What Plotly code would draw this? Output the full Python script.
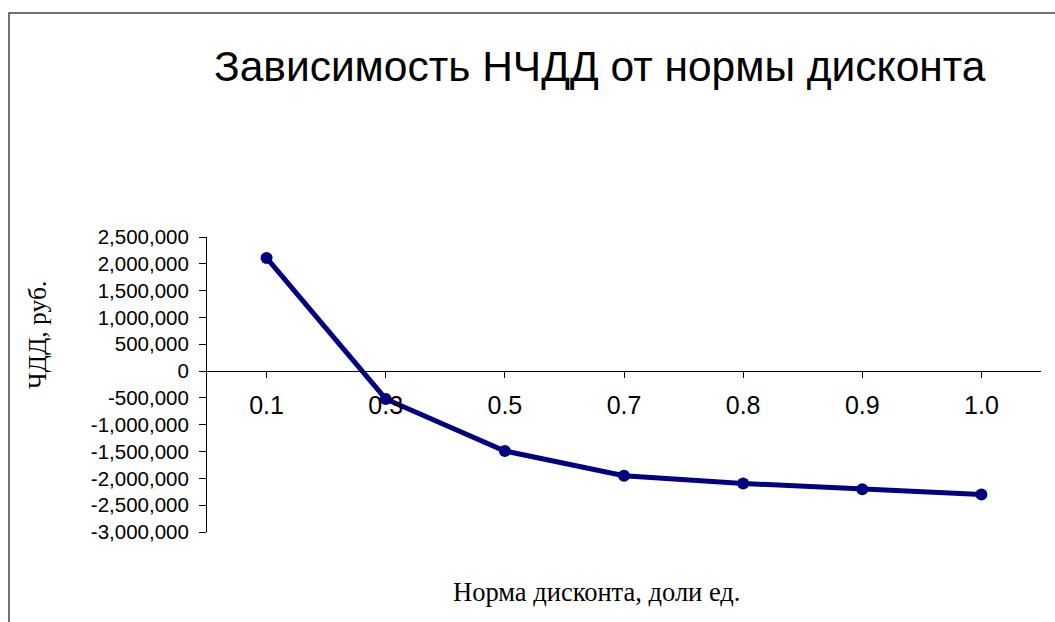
import plotly.graph_objects as go

# Discount rate categories (shares of unit) and the resulting NPV, rub.
rates = ["0.1", "0.3", "0.5", "0.7", "0.8", "0.9", "1.0"]
npv = [2110000, -520000, -1490000, -1950000, -2095000, -2205000, -2300000]

y_ticks = list(range(-3000000, 2500001, 500000))
y_tick_text = [f"{v:,}" for v in y_ticks]

W, H = 1055, 622
L, R, T, B = 207, 14, 237, 90
plot_w = W - L - R
plot_h = H - T - B

y_min, y_max = -3000000, 2500000
x_pos = list(range(len(rates)))
zero_pos = (0 - y_min) / (y_max - y_min)


def px_x(p):
    return (p - L) / plot_w


def px_y(p):
    return (H - B - p) / plot_h


fig = go.Figure()
fig.add_trace(go.Scatter(
    x=x_pos, y=npv, mode="lines+markers",
    line=dict(color="#000080", width=5),
    marker=dict(color="#000080", size=12),
    showlegend=False, hoverinfo="skip",
))

axis_font = dict(family="Liberation Sans, Arial, sans-serif", color="#000000")
serif_font = dict(family="Liberation Serif, Times New Roman, serif", color="#000000")

fig.update_layout(
    width=W, height=H,
    margin=dict(l=L, r=R, t=T, b=B),
    paper_bgcolor="white", plot_bgcolor="white",
    xaxis=dict(
        range=[-0.5, len(rates) - 0.5],
        tickmode="array", tickvals=x_pos, ticktext=rates,
        anchor="free", position=zero_pos,
        showline=True, linecolor="#000000", linewidth=1,
        ticks="outside", ticklen=6, tickcolor="#000000",
        showgrid=False, zeroline=False,
        tickfont=dict(size=25, **axis_font),
        ticklabelstandoff=6,
    ),
    xaxis2=dict(
        range=[-0.5, len(rates) - 0.5], overlaying="x",
        anchor="free", position=zero_pos,
        tickmode="array", tickvals=[v - 0.5 for v in x_pos] + [len(rates) - 0.5],
        ticks="outside", ticklen=7, tickcolor="#000000",
        showticklabels=False, showgrid=False, zeroline=False, showline=False,
    ),
    xaxis3=dict(
        range=[-0.5, len(rates) - 0.5], overlaying="x",
        anchor="free", position=zero_pos,
        tickmode="array", tickvals=[v - 0.5 for v in x_pos] + [len(rates) - 0.5] + x_pos,
        ticks="inside", ticklen=7, tickcolor="#000000",
        showticklabels=False, showgrid=False, zeroline=False, showline=False,
    ),
    yaxis=dict(
        range=[y_min, y_max],
        tickmode="array", tickvals=y_ticks, ticktext=y_tick_text,
        showline=True, linecolor="#000000", linewidth=1,
        ticks="outside", ticklen=7, tickcolor="#000000",
        showgrid=False, zeroline=False,
        tickfont=dict(size=20.5, **axis_font),
        ticklabelstandoff=6,
    ),
    yaxis2=dict(
        range=[y_min, y_max], overlaying="y", anchor="x",
        tickmode="array", tickvals=y_ticks,
        ticks="inside", ticklen=6, tickcolor="#000000",
        showticklabels=False, showgrid=False, zeroline=False, showline=False,
    ),
    shapes=[dict(
        type="rect", xref="paper", yref="paper",
        x0=px_x(9), x1=px_x(1080), y0=px_y(660), y1=px_y(13),
        line=dict(color="#444444", width=1.5), fillcolor="rgba(0,0,0,0)",
        layer="below",
    )],
    annotations=[
        dict(text="Зависимость НЧДД от нормы дисконта",
             xref="paper", yref="paper", x=px_x(600), y=px_y(66),
             xanchor="center", yanchor="middle", showarrow=False,
             font=dict(size=42.5, **axis_font)),
        dict(text="Норма дисконта, доли ед.",
             xref="paper", yref="paper", x=px_x(596), y=px_y(592),
             xanchor="center", yanchor="middle", showarrow=False,
             font=dict(size=26.5, **serif_font)),
        dict(text="ЧДД, руб.",
             xref="paper", yref="paper", x=px_x(37), y=px_y(335),
             xanchor="center", yanchor="middle", showarrow=False, textangle=-90,
             font=dict(size=25.5, **serif_font)),
    ],
)

fig.write_html("out.html")
